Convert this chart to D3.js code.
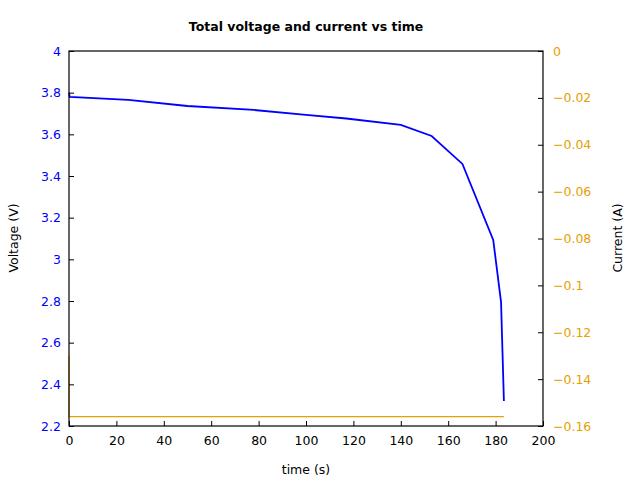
<!DOCTYPE html>
<html><head><meta charset="utf-8">
<script src="https://cdn.jsdelivr.net/npm/d3@7"></script>
<style>body{margin:0;background:#fff}text{font-family:"DejaVu Sans",sans-serif}</style>
</head><body><svg id="c" width="640" height="480"></svg>
<script>
// voltage vs time
const timeV = [0, 0.3, 25, 50, 78, 100, 117, 140, 153, 166, 179, 182.3, 183.5];
const voltage = [3.8, 3.78, 3.765, 3.736, 3.717, 3.693, 3.676, 3.645, 3.592, 3.458, 3.093, 2.795, 2.32];
// current vs time
const timeI = [0, 0, 183.5];
const current = [-0.13, -0.156, -0.156];

const svg = d3.select('#c');
const m = {l: 69, r: 543, t: 51, b: 426};
const x = d3.scaleLinear().domain([0, 200]).range([m.l, m.r]);
const yV = d3.scaleLinear().domain([2.2, 4]).range([m.b, m.t]);
const yI = d3.scaleLinear().domain([-0.16, 0]).range([m.b, m.t]);
const blue = '#0000ff', orange = '#e6a000';

svg.append('path').datum(timeI.map((t, i) => [t, current[i]]))
  .attr('fill', 'none').attr('stroke', orange).attr('stroke-width', 1.2)
  .attr('d', d3.line().x(d => x(d[0])).y(d => yI(d[1])));
svg.append('path').datum(timeV.map((t, i) => [t, voltage[i]]))
  .attr('fill', 'none').attr('stroke', blue).attr('stroke-width', 1.8)
  .attr('d', d3.line().x(d => x(d[0])).y(d => yV(d[1])));

function style(g, col) {
  g.select('.domain').remove();
  g.selectAll('line').attr('stroke', '#000');
  g.selectAll('text').attr('fill', col).style('font-size', '12.5px');
}
svg.append('g').attr('transform', `translate(0,${m.b})`)
  .call(d3.axisBottom(x).ticks(10).tickSizeInner(-5).tickSizeOuter(0).tickPadding(10))
  .call(g => style(g, '#000'));
svg.append('g').attr('transform', `translate(${m.l},0)`)
  .call(d3.axisLeft(yV).tickValues(d3.range(2.2, 4.01, 0.2)).tickFormat(d3.format('~g')).tickSizeInner(-5).tickSizeOuter(0).tickPadding(8))
  .call(g => style(g, blue));
svg.append('g').attr('transform', `translate(${m.r},0)`)
  .call(d3.axisRight(yI).tickValues(d3.range(-0.16, 0.001, 0.02)).tickFormat(d => d3.format('~g')(+d.toFixed(2))).tickSizeInner(-5).tickSizeOuter(0).tickPadding(10))
  .call(g => style(g, orange));
svg.append('rect').attr('x', m.l).attr('y', m.t).attr('width', m.r - m.l).attr('height', m.b - m.t)
  .attr('fill', 'none').attr('stroke', '#000').attr('stroke-width', 1.2);

svg.append('text').attr('x', 306).attr('y', 31).attr('text-anchor', 'middle')
  .style('font-size', '12.5px').style('font-weight', 'bold').text('Total voltage and current vs time');
svg.append('text').attr('x', 306).attr('y', 474).attr('text-anchor', 'middle')
  .style('font-size', '12.5px').text('time (s)');
svg.append('text').attr('transform', 'translate(18,238) rotate(-90)').attr('text-anchor', 'middle')
  .style('font-size', '12.5px').text('Voltage (V)');
svg.append('text').attr('transform', 'translate(622,238) rotate(-90)').attr('text-anchor', 'middle')
  .style('font-size', '12.5px').text('Current (A)');
</script></body></html>
